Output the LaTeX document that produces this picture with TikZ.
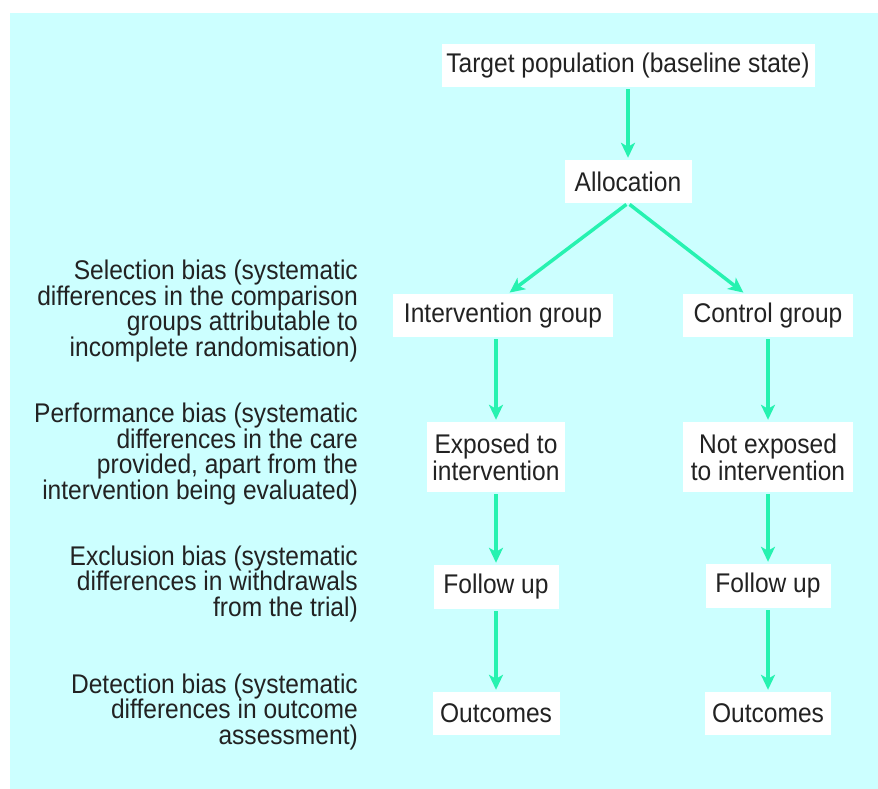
\documentclass[tikz,border=0pt]{standalone}
\usepackage{fontspec}
\setmainfont{Liberation Sans}[FakeStretch=0.91]
\usetikzlibrary{arrows.meta,calc}
\definecolor{panel}{RGB}{204,255,255}
\definecolor{arr}{RGB}{38,242,176}
\definecolor{ink}{RGB}{34,34,34}
\begin{document}
\begin{tikzpicture}[x=1pt,y=-1pt,
  box/.style={fill=white, text=ink, inner sep=0pt, align=center, font=\fontsize{27}{27}\selectfont},
  bias/.style={anchor=east, text=ink, align=right, inner sep=0pt, font=\fontsize{27}{25.5}\selectfont},
  flow/.style={draw=arr, line width=3.5pt, -{Stealth[length=15pt,width=14pt,inset=4pt]}, shorten >=2pt, shorten <=2pt}]
\useasboundingbox[fill=white] (0,0) rectangle (878,789);
\fill[panel] (10,13) rectangle (878,789);

\node[box, minimum width=373pt, minimum height=43pt] (tgt) at (628,65.5) {Target population (baseline state)};
\node[box, minimum width=127pt, minimum height=43pt] (alloc) at (628,181.5) {Allocation};
\node[box, minimum width=220pt, minimum height=43pt] (ig) at (503,315.5) {Intervention group};
\node[box, minimum width=170pt, minimum height=43pt] (cg) at (768,315.5) {Control group};
\node[box, minimum width=138pt, minimum height=70pt] (ei) at (496,457) {Exposed to\\intervention};
\node[box, minimum width=170pt, minimum height=70pt] (ne) at (768,457) {Not exposed\\to intervention};
\node[box, minimum width=125pt, minimum height=44pt] (fl) at (496,587) {Follow up};
\node[box, minimum width=125pt, minimum height=44pt] (fr) at (768,586) {Follow up};
\node[box, minimum width=127pt, minimum height=43pt] (ol) at (496,713.5) {Outcomes};
\node[box, minimum width=126pt, minimum height=43pt] (or) at (768,713.5) {Outcomes};

\node[bias] (sel) at (358,311) {Selection bias (systematic\\differences in the comparison\\groups attributable to\\incomplete randomisation)};
\node[bias] (perf) at (358,454) {Performance bias (systematic\\differences in the care\\provided, apart from the\\intervention being evaluated)};
\node[bias] (excl) at (358,584) {Exclusion bias (systematic\\differences in withdrawals\\from the trial)};
\node[bias] (det) at (358,712) {Detection bias (systematic\\differences in outcome\\assessment)};

\draw[flow] (tgt) -- (alloc);
\draw[flow] (alloc.south) -- ($(ig.north)+(5,0)$);
\draw[flow] (alloc.south) -- ($(cg.north)+(-23,0)$);
\draw[flow] (ig.south -| ei.north) -- (ei.north);
\draw[flow] (ei) -- (fl);
\draw[flow] (fl) -- (ol);
\draw[flow] (cg) -- (ne);
\draw[flow] (ne) -- (fr);
\draw[flow] (fr) -- (or);
\end{tikzpicture}
\end{document}
